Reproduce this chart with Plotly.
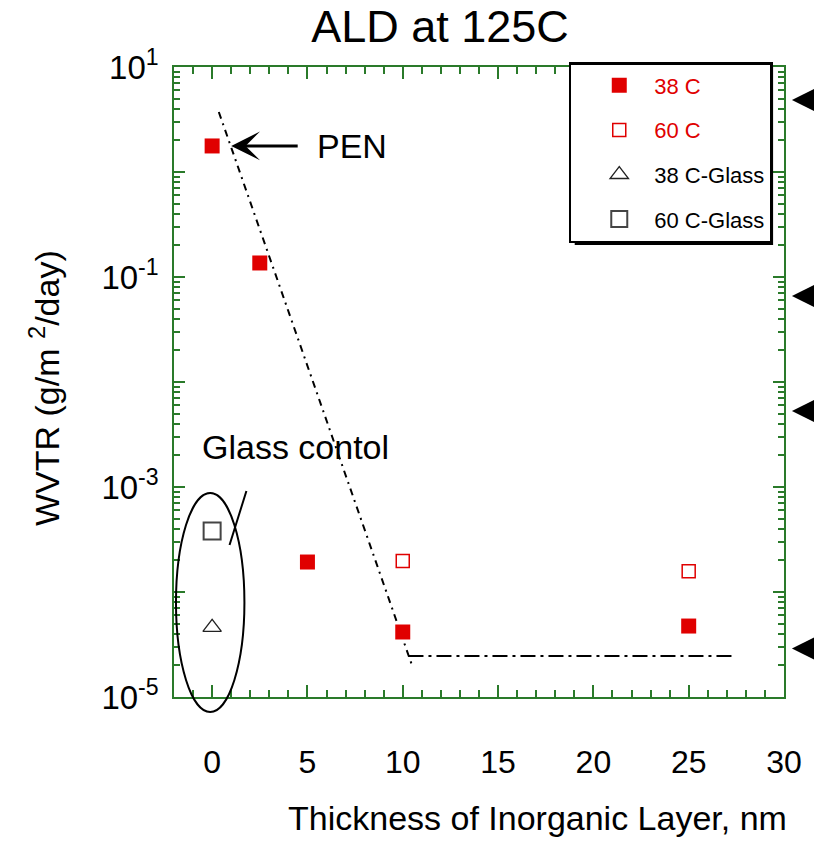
import numpy as np
import plotly.graph_objects as go

# ---------------- data ----------------
x_38c = [0, 2.5, 5, 10, 25]
y_38c = [1.77, 0.136, 1.93e-4, 4.16e-5, 4.74e-5]

x_60c = [10, 25]
y_60c = [1.97e-4, 1.58e-4]

x_38c_glass = [0]
y_38c_glass = [4.6e-5]

x_60c_glass = [0]
y_60c_glass = [3.8e-4]

# trend lines (dash-dot guides)
trend_x = [0.35, 10.5]
trend_y = [3.73, 1.97e-5]
floor_x = [10.3, 27.4]
floor_y = [2.46e-5, 2.46e-5]

# arrows on right edge (WVTR levels)
right_arrow_wvtr = [4.85, 0.066, 0.0053, 2.9e-5]

y_tick_vals = [1e-5, 1e-4, 1e-3, 1e-2, 1e-1, 1e0, 1e1]
y_tick_text = ["10<sup>-5</sup>", "", "10<sup>-3</sup>", "", "10<sup>-1</sup>", "", "10<sup>1</sup>"]
x_tick_vals = [0, 5, 10, 15, 20, 25, 30]

FONT = "Liberation Sans, Arial, sans-serif"
RED = "#e00000"
AXC = "#2a7a2a"

fig = go.Figure()

fig.add_trace(go.Scatter(x=trend_x, y=trend_y, mode="lines", showlegend=False,
                         line=dict(color="black", width=2, dash="7px,5px,2px,5px")))
fig.add_trace(go.Scatter(x=floor_x, y=floor_y, mode="lines", showlegend=False,
                         line=dict(color="black", width=2, dash="15px,5px,3px,5px")))

fig.add_trace(go.Scatter(x=x_38c, y=y_38c, mode="markers", name="<span style='color:#e00000'>38 C</span>",
                         legendgroup="a",
                         marker=dict(symbol="square", size=15, color=RED, line=dict(width=0))))
fig.add_trace(go.Scatter(x=x_60c, y=y_60c, mode="markers", name="<span style='color:#e00000'>60 C</span>",
                         legendgroup="b",
                         marker=dict(symbol="square-open", size=13, color=RED, line=dict(width=1.5))))
fig.add_trace(go.Scatter(x=x_38c_glass, y=y_38c_glass, mode="markers", name="38 C-Glass",
                         legendgroup="c",
                         marker=dict(symbol="triangle-up-open", size=16, color="#222222", line=dict(width=1.3))))
fig.add_trace(go.Scatter(x=x_60c_glass, y=y_60c_glass, mode="markers", name="60 C-Glass",
                         legendgroup="d",
                         marker=dict(symbol="square-open", size=17, color="#444444", line=dict(width=2))))

L, R, T, B = 174, 25, 67, 145
W, H = 814, 842
pw, ph = W - L - R, H - T - B


def px_to_paper_x(px):
    return (px - L) / pw


def px_to_paper_y(py):
    return (H - B - py) / ph


shapes = []
# legend shadow
shapes.append(dict(type="rect", xref="paper", yref="paper",
                   x0=px_to_paper_x(578), x1=px_to_paper_x(778),
                   y0=px_to_paper_y(245), y1=px_to_paper_y(67),
                   fillcolor="black", line=dict(width=0), layer="above"))
# glass ellipse
shapes.append(dict(type="circle", xref="paper", yref="paper",
                   x0=px_to_paper_x(176), x1=px_to_paper_x(245),
                   y0=px_to_paper_y(712), y1=px_to_paper_y(493),
                   line=dict(color="black", width=2)))
shapes.append(dict(type="line", xref="paper", yref="paper",
                   x0=px_to_paper_x(230), x1=px_to_paper_x(247),
                   y0=px_to_paper_y(545), y1=px_to_paper_y(491),
                   line=dict(color="black", width=2)))

annotations = []
# PEN arrow
annotations.append(dict(x=1.0, y=np.log10(1.77), xref="x", yref="y", text="", showarrow=True,
                        ax=68, ay=0, arrowhead=3, arrowwidth=3, arrowsize=1.6, arrowcolor="black"))
annotations.append(dict(x=px_to_paper_x(316), y=np.log10(1.77), xref="paper", yref="y", text="PEN",
                        showarrow=False, xanchor="left", yanchor="middle",
                        font=dict(family=FONT, size=34, color="black")))
annotations.append(dict(x=px_to_paper_x(200), y=px_to_paper_y(447), xref="paper", yref="paper",
                        text="Glass contol", showarrow=False, xanchor="left", yanchor="middle",
                        font=dict(family=FONT, size=34, color="black")))
for v in right_arrow_wvtr:
    annotations.append(dict(x=px_to_paper_x(797), y=np.log10(v), xref="paper", yref="y", text="",
                            showarrow=True, ax=40, ay=0, arrowhead=2, arrowwidth=2.5, arrowsize=1.8,
                            arrowcolor="black"))
# axis titles
annotations.append(dict(x=px_to_paper_x(43), y=px_to_paper_y(388), xref="paper", yref="paper",
                        text="WVTR (g/m <sup>2</sup>/day)", textangle=-90, showarrow=False,
                        xanchor="center", yanchor="middle",
                        font=dict(family=FONT, size=34, color="black")))
annotations.append(dict(x=px_to_paper_x(540), y=px_to_paper_y(818), xref="paper", yref="paper",
                        text="Thickness of Inorganic Layer, nm", showarrow=False,
                        xanchor="center", yanchor="middle",
                        font=dict(family=FONT, size=34, color="black")))

fig.update_layout(
    width=W, height=H,
    margin=dict(l=L, r=R, t=T, b=B),
    paper_bgcolor="white", plot_bgcolor="white",
    font=dict(family=FONT, color="black"),
    title=dict(text="ALD at 125C", x=440 / W, y=1 - 26 / H, xanchor="center", yanchor="middle",
               font=dict(family=FONT, size=45, color="black")),
    xaxis=dict(range=[-2, 30], tickmode="array", tickvals=x_tick_vals,
               ticks="inside", ticklen=12, tickwidth=1.5, tickcolor=AXC,
               showline=True, linecolor=AXC, linewidth=1.5, mirror="ticks",
               showgrid=False, zeroline=False,
               minor=dict(dtick=1, tick0=0, ticks="inside", ticklen=7, tickwidth=1.5, tickcolor=AXC, showgrid=False),
               tickfont=dict(family=FONT, size=32, color="black"), ticklabelstandoff=36),
    yaxis=dict(type="log", range=[-5, 1], tickmode="array", tickvals=y_tick_vals, ticktext=y_tick_text,
               ticks="inside", ticklen=11, tickwidth=1.5, tickcolor=AXC,
               showline=True, linecolor=AXC, linewidth=1.5, mirror="ticks",
               showgrid=False, zeroline=False,
               minor=dict(ticks="inside", ticklen=6, tickwidth=1.5, tickcolor=AXC, showgrid=False, dtick="D1"),
               tickfont=dict(family=FONT, size=33, color="black"), ticklabelstandoff=7),
    legend=dict(x=px_to_paper_x(572), y=px_to_paper_y(62), xanchor="left", yanchor="top",
                bgcolor="white", bordercolor="black", borderwidth=2.5,
                font=dict(family=FONT, size=22, color="black"),
                itemwidth=60, indentation=13, tracegroupgap=13),
    shapes=shapes,
    annotations=annotations,
)

fig.write_html("out.html")
